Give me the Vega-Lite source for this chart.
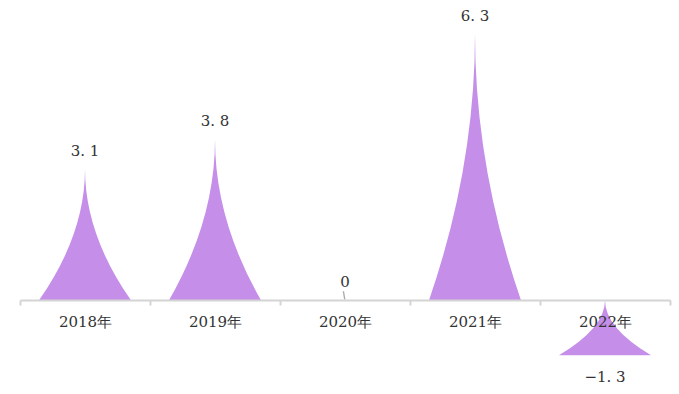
{
  "$schema": "https://vega.github.io/schema/vega-lite/v6.json",
  "width": 650,
  "height": 381,
  "autosize": {"type": "none"},
  "padding": {"left": 20, "top": 4, "right": 9, "bottom": 9},
  "background": "white",
  "config": {"view": {"stroke": null}},
  "data": {
    "values": [
      {"year": "2018年", "value": 3.1, "label": "3. 1"},
      {"year": "2019年", "value": 3.8, "label": "3. 8"},
      {"year": "2020年", "value": 0, "label": "0"},
      {"year": "2021年", "value": 6.3, "label": "6. 3"},
      {"year": "2022年", "value": -1.3, "label": "−1. 3"}
    ]
  },
  "encoding": {
    "x": {
      "field": "year",
      "type": "nominal",
      "sort": null,
      "scale": {"paddingInner": 0, "paddingOuter": 0},
      "axis": {
        "orient": "bottom",
        "offset": -85,
        "title": null,
        "zindex": 1,
        "domainColor": "#d4d4d4",
        "domainWidth": 2,
        "tickColor": "#d4d4d4",
        "tickSize": 5,
        "tickWidth": 2,
        "tickBand": "extent",
        "labelFont": "DejaVu Serif",
        "labelFontSize": 15,
        "labelColor": "#333333",
        "labelPadding": 9,
        "labelAngle": 0
      }
    },
    "y": {
      "field": "value",
      "type": "quantitative",
      "scale": {"domain": [-2, 7], "nice": false, "zero": false},
      "axis": null
    }
  },
  "layer": [
    {
      "mark": {"type": "point", "filled": true, "opacity": 1, "size": 8464},
      "encoding": {
        "shape": {
          "field": "year",
          "type": "nominal",
          "legend": null,
          "scale": {
            "domain": ["2018年", "2019年", "2020年", "2021年", "2022年"],
            "range": [
              "M0,0 Q0,1.4265 1,2.853 L-1,2.853 Q0,1.4265 0,0 Z",
              "M0,0 Q0,1.7485 1,3.497 L-1,3.497 Q0,1.7485 0,0 Z",
              "M-0.05,-0.2 L-0.02,-0.2 L0.01,-0.02 L-0.02,-0.02 Z",
              "M0,0 Q0,2.8985 1,5.797 L-1,5.797 Q0,2.8985 0,0 Z",
              "M0,-1.196 Q0,-0.598 1,0 L-1,0 Q0,-0.598 0,-1.196 Z"
            ]
          }
        },
        "color": {
          "field": "year",
          "type": "nominal",
          "legend": null,
          "scale": {
            "domain": ["2018年", "2019年", "2020年", "2021年", "2022年"],
            "range": ["#c48ee9", "#c48ee9", "#aaaaaa", "#c48ee9", "#c48ee9"]
          }
        }
      }
    },
    {
      "transform": [{"filter": "datum.value >= 0"}],
      "mark": {"type": "text", "baseline": "alphabetic", "dy": -13, "font": "DejaVu Serif", "fontSize": 15, "color": "#333333"},
      "encoding": {"text": {"field": "label", "type": "nominal"}}
    },
    {
      "transform": [{"filter": "datum.value < 0"}],
      "mark": {"type": "text", "baseline": "alphabetic", "dy": 27, "font": "DejaVu Serif", "fontSize": 15, "color": "#333333"},
      "encoding": {"text": {"field": "label", "type": "nominal"}}
    }
  ]
}
